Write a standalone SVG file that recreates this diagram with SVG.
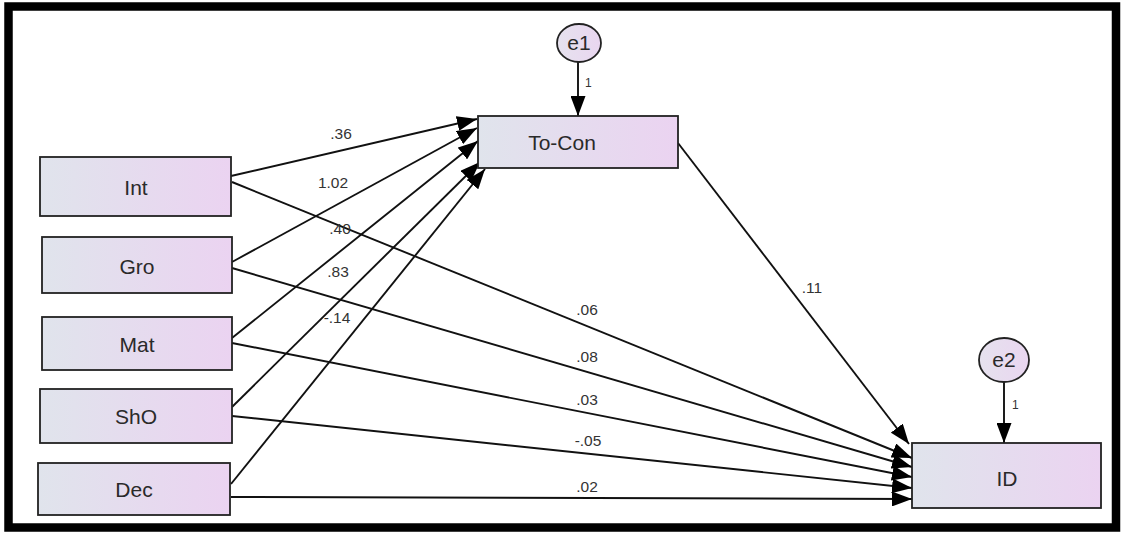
<svg xmlns="http://www.w3.org/2000/svg" width="1123" height="535" viewBox="0 0 1123 535">
  <style>
    .box { stroke: #222; stroke-width: 1.8; fill: url(#boxFill); }
    .err { stroke: #222; stroke-width: 1.8; fill: url(#errFill); }
    .name { font-family: "Liberation Sans", Arial, sans-serif; font-size: 21px; fill: #2a2a2a; text-anchor: middle; }
    .coef { font-family: "Liberation Sans", Arial, sans-serif; font-size: 15.5px; fill: #333; text-anchor: middle; }
    .one { font-family: "Liberation Sans", Arial, sans-serif; font-size: 12px; fill: #333; }
    .path { stroke: #111; stroke-width: 1.9; fill: none; marker-end: url(#head); }
  </style>
  <defs>
    <linearGradient id="boxFill" x1="0" y1="0" x2="1" y2="0">
      <stop offset="0" stop-color="#e0e4ec"/>
      <stop offset="1" stop-color="#ebd3f1"/>
    </linearGradient>
    <linearGradient id="errFill" x1="0" y1="0" x2="1" y2="0">
      <stop offset="0" stop-color="#e6e2ee"/>
      <stop offset="1" stop-color="#e9d6f0"/>
    </linearGradient>
    <marker id="head" viewBox="0 0 20 15" refX="20" refY="7.5" markerWidth="20" markerHeight="15" markerUnits="userSpaceOnUse" orient="auto">
      <path d="M0,0 L20,7.5 L0,15 Z" fill="#000"/>
    </marker>
  </defs>

  <rect x="0" y="0" width="1123" height="535" fill="#fff"/>
  <!-- outer frame -->
  <rect x="8.5" y="6.5" width="1107.5" height="521" fill="none" stroke="#000" stroke-width="8.5"/>

  <!-- regression paths -->
  <g id="connectors">
    <line class="path" x1="231" y1="176" x2="477" y2="119"/>
    <line class="path" x1="232" y1="262" x2="477" y2="128"/>
    <line class="path" x1="232" y1="338" x2="478" y2="141"/>
    <line class="path" x1="232" y1="407" x2="480" y2="162"/>
    <line class="path" x1="231" y1="484" x2="485" y2="169"/>

    <line class="path" x1="232" y1="182" x2="912" y2="458"/>
    <line class="path" x1="232" y1="268" x2="912" y2="467"/>
    <line class="path" x1="232" y1="343" x2="912" y2="477"/>
    <line class="path" x1="232" y1="416" x2="912" y2="488"/>
    <line class="path" x1="231" y1="497" x2="912" y2="499"/>

    <line class="path" x1="678" y1="143" x2="909" y2="444"/>

    <line class="path" x1="578" y1="62" x2="578" y2="116"/>
    <line class="path" x1="1004" y1="382" x2="1004" y2="443"/>

    <text class="coef" x="341" y="139">.36</text>
    <text class="coef" x="333" y="188">1.02</text>
    <text class="coef" x="340" y="234">.40</text>
    <text class="coef" x="338" y="277">.83</text>
    <text class="coef" x="337" y="323">-.14</text>
    <text class="coef" x="587" y="315">.06</text>
    <text class="coef" x="587" y="362">.08</text>
    <text class="coef" x="587" y="405">.03</text>
    <text class="coef" x="588" y="446">-.05</text>
    <text class="coef" x="587" y="492">.02</text>
    <text class="coef" x="812" y="293">.11</text>
    <text class="one" x="585" y="87">1</text>
    <text class="one" x="1012" y="409">1</text>
  </g>

  <g id="Int">
    <rect class="box" x="40" y="157" width="191" height="59"/>
    <text class="name" x="136" y="195">Int</text>
  </g>
  <g id="Gro">
    <rect class="box" x="42" y="237" width="190" height="56"/>
    <text class="name" x="137" y="274">Gro</text>
  </g>
  <g id="Mat">
    <rect class="box" x="42" y="317" width="190" height="53"/>
    <text class="name" x="137" y="352">Mat</text>
  </g>
  <g id="ShO">
    <rect class="box" x="40" y="389" width="192" height="54"/>
    <text class="name" x="136" y="424">ShO</text>
  </g>
  <g id="Dec">
    <rect class="box" x="38" y="463" width="192" height="52"/>
    <text class="name" x="134" y="497">Dec</text>
  </g>
  <g id="To-Con">
    <rect class="box" x="478" y="116" width="200" height="52"/>
    <text class="name" x="562" y="150">To-Con</text>
  </g>
  <g id="ID">
    <rect class="box" x="912" y="443" width="189" height="65"/>
    <text class="name" x="1007" y="486">ID</text>
  </g>
  <g id="e1">
    <ellipse class="err" cx="579" cy="43" rx="22" ry="19"/>
    <text class="name" x="579" y="50">e1</text>
  </g>
  <g id="e2">
    <ellipse class="err" cx="1004" cy="360" rx="25" ry="22"/>
    <text class="name" x="1004" y="367">e2</text>
  </g>
</svg>
